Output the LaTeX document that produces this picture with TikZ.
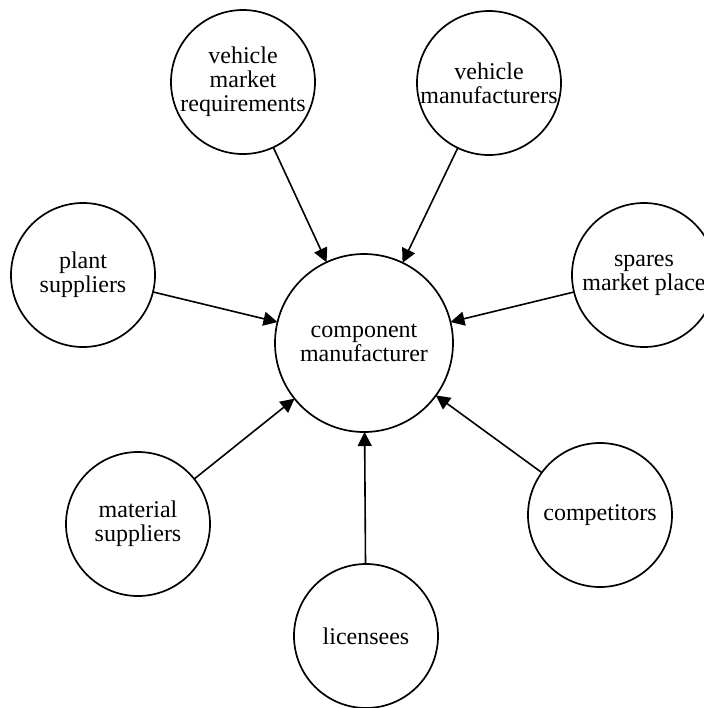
\documentclass[tikz,border=0pt]{standalone}
\usepackage{fontspec}
\setmainfont{Liberation Serif}
\usetikzlibrary{arrows.meta}
\begin{document}
\begin{tikzpicture}[x=0.5pt,y=-0.5pt,
  party/.style={draw, circle, line width=0.85pt, inner sep=0pt, outer sep=0pt,
    minimum size=72pt, align=center,
    font=\fontsize{12pt}{12pt}\selectfont},
  hub/.style={party, minimum size=89pt},
  link/.style={line width=0.8pt, -{Triangle[length=7pt,width=7pt]}, shorten >=0pt}]
\fill[white] (0,0) rectangle (704,708);
\useasboundingbox (0,0) rectangle (704,708);
\node[hub]   (C)   at (364,343) {component\\manufacturer};
\node[party] (VMR) at (243,82)  {vehicle\\market\\requirements};
\node[party] (VM)  at (489,83)  {vehicle\\manufacturers};
\node[party] (PS)  at (83,275)  {plant\\suppliers};
\node[party] (SMP) at (644,275) {spares\\market place};
\node[party] (MS)  at (138,524) {material\\suppliers};
\node[party] (CO)  at (600,515) {competitors};
\node[party] (LI)  at (366,636) {licensees};
\foreach \n in {VMR,VM,PS,SMP,MS,CO,LI}
  \draw[link] (\n) -- (C);
\end{tikzpicture}
\end{document}
